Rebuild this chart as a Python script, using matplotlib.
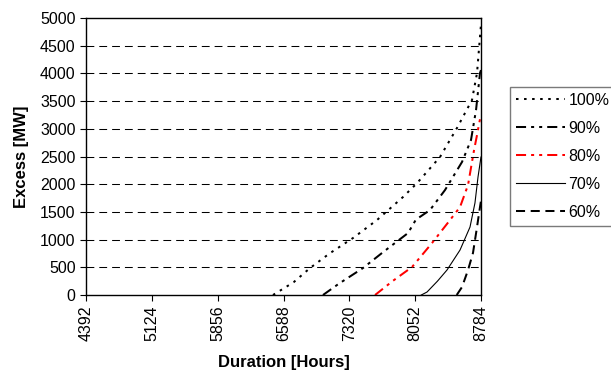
import matplotlib
matplotlib.use("Agg")
import matplotlib.pyplot as plt

plt.rcParams['font.family'] = ['Liberation Sans', 'DejaVu Sans']

# curvas de duracion del exceso (horas, MW)
labels = ['100%', '90%', '80%', '70%', '60%']

hours_100 = [6471, 6700, 6883, 7100, 7361, 7628, 7917, 8073, 8328, 8517, 8684, 8740, 8784]
mw_100 = [0, 230, 487, 750, 1029, 1354, 1769, 2020, 2491, 3014, 3520, 4007, 4880]

hours_90 = [7027, 7200, 7472, 7700, 7973, 8060, 8217, 8384, 8573, 8673, 8729, 8773, 8784]
mw_90 = [0, 200, 487, 780, 1119, 1360, 1534, 1895, 2401, 2798, 3339, 4007, 4060]

hours_80 = [7606, 7800, 8017, 8240, 8440, 8551, 8640, 8707, 8740, 8770, 8784]
mw_80 = [0, 250, 505, 939, 1354, 1588, 1986, 2617, 2888, 3150, 3250]

hours_70 = [8120, 8184, 8300, 8406, 8551, 8662, 8717, 8751, 8784]
mw_70 = [0, 54, 250, 451, 812, 1227, 1661, 2130, 2491]

hours_60 = [8514, 8573, 8640, 8695, 8740, 8773, 8784]
mw_60 = [0, 144, 451, 758, 1227, 1588, 1700]

x_ticks = [4392, 5124, 5856, 6588, 7320, 8052, 8784]
y_ticks = list(range(0, 5001, 500))

fig = plt.figure(figsize=(6.11, 3.74), dpi=100)
ax = fig.add_axes([0.1408, 0.2112, 0.6464, 0.7406])

ax.plot(hours_100, mw_100, color='black', lw=1.45, dashes=(1.25, 2.75),
        dash_capstyle='butt', label=labels[0])
ax.plot(hours_90, mw_90, color='black', lw=1.45, dashes=(5, 2.5, 1.5, 2.5, 1.5, 2.5),
        dash_capstyle='butt', label=labels[1])
ax.plot(hours_80, mw_80, color='#ff0000', lw=1.45, dashes=(5, 2.5, 1.5, 2.5, 1.5, 2.5),
        dash_capstyle='butt', label=labels[2])
ax.plot(hours_70, mw_70, color='black', lw=0.8, label=labels[3])
ax.plot(hours_60, mw_60, color='black', lw=1.45, dashes=(4.5, 2.8),
        dash_capstyle='butt', label=labels[4])

ax.set_xlim(4392, 8784)
ax.set_ylim(0, 5000)
ax.set_xticks(x_ticks)
ax.set_xticklabels([str(v) for v in x_ticks], rotation=90)
ax.set_yticks(y_ticks)
ax.tick_params(direction='out', length=4, width=0.8, labelsize=11.5, colors='black')

for v in y_ticks[1:-1]:
    ax.axhline(v, color='black', lw=0.75, dashes=(7.5, 4.8), zorder=0)

for s in ax.spines.values():
    s.set_linewidth(1.0)
    s.set_color('black')

ax.set_xlabel('Duration [Hours]', fontsize=12, fontweight='bold', labelpad=10)
ax.set_ylabel('Excess [MW]', fontsize=12, fontweight='bold', labelpad=8)

leg = ax.legend(loc='upper left', bbox_to_anchor=(510 / 611, 1 - 87 / 374),
                bbox_transform=fig.transFigure, fontsize=11.5, frameon=True,
                fancybox=False, borderaxespad=0, borderpad=0.35,
                handlelength=3.1, handletextpad=0.2, labelspacing=0.82)
leg.get_frame().set_edgecolor('0.35')
leg.get_frame().set_linewidth(1.0)

fig.savefig('out.png', dpi=100)
